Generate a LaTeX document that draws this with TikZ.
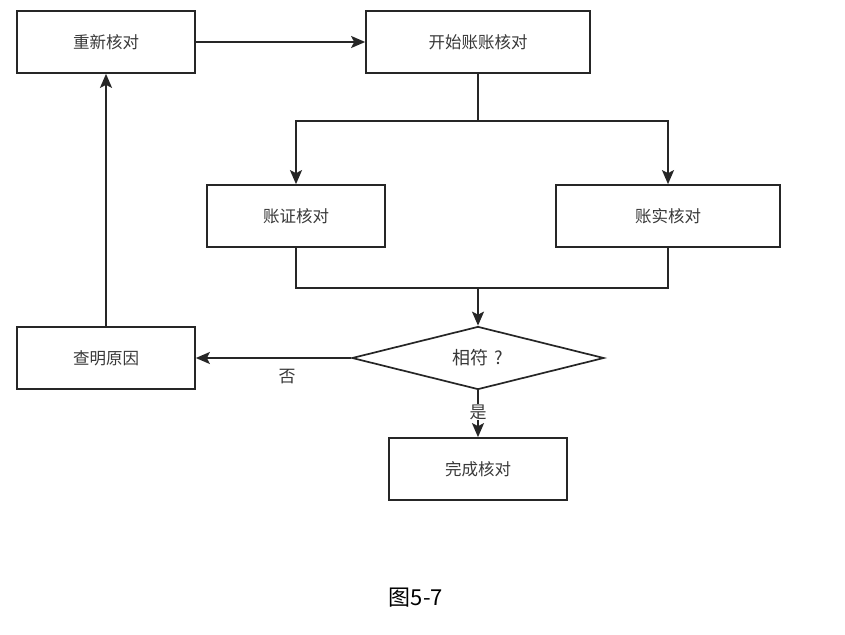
\documentclass[tikz,border=0pt]{standalone}
\usepackage{fontspec}
\setmainfont{Noto Sans CJK SC}
\usetikzlibrary{shapes.geometric,arrows.meta}
\begin{document}
\begin{tikzpicture}[x=1pt,y=-1pt,
  line width=1.7pt,
  box/.style={draw=black!85,line width=1.7pt,minimum width=178pt,minimum height=62pt,inner sep=0pt,font=\fontsize{16.5}{19}\selectfont,text=black!78},
  wbox/.style={box,minimum width=224pt},
  arr/.style={draw=black!85,line width=1.7pt,-{Stealth[length=14pt,width=12pt,inset=3pt]}},
  ln/.style={draw=black!85,line width=1.7pt}]
\useasboundingbox (0,0) rectangle (845,634);
\node[box] (recheck) at (106,42) {重新核对};
\node[wbox] (start) at (478,42) {开始账账核对};
\node[box] (zz) at (296,216) {账证核对};
\node[wbox] (zs) at (668,216) {账实核对};
\node[box] (find) at (106,358) {查明原因};
\node[diamond,aspect=4,draw=black!85,line width=1.7pt,minimum width=252pt,minimum height=63pt,inner sep=0pt,font=\fontsize{18}{21}\selectfont,text=black!78] (q) at (478,358) {相符\,\,?};
\node[box] (done) at (478,469) {完成核对};
\node[font=\fontsize{22}{25}\selectfont] (cap) at (416,598) {图5-7};
\node[font=\fontsize{17}{20}\selectfont,text=black!78] (no) at (287,377) {否};
\coordinate (split) at (478,121);
\coordinate (merge) at (478,288);
\draw[arr] (recheck.east) -- (start.west);
\draw[ln] (start.south) -- (split);
\draw[arr] (split) -| (zz.north);
\draw[arr] (split) -| (zs.north);
\draw[ln] (zz.south) |- (merge);
\draw[ln] (zs.south) |- (merge);
\draw[arr] (merge) -- (q.north);
\draw[arr] (q.west) -- (find.east);
\draw[arr] (find.north) -- (recheck.south);
\draw[arr] (q.south) -- (done.north);
\node[fill=white,inner sep=1pt,font=\fontsize{17}{20}\selectfont,text=black!78] (yes) at (478,412) {是};
\end{tikzpicture}
\end{document}
